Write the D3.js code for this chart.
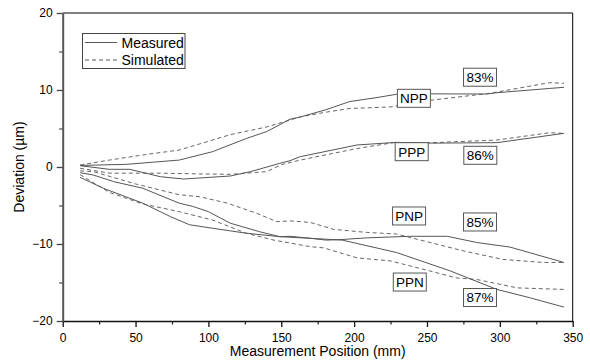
<!DOCTYPE html>
<html>
<head>
<meta charset="utf-8">
<script src="https://cdn.jsdelivr.net/npm/d3@7"></script>
<style>
  body { margin: 0; background: #fff; }
  text { font-family: Arial, "Liberation Sans", sans-serif; }
</style>
</head>
<body>
<svg id="chart"></svg>
<script>
// [position (mm), deviation (um)]
const nppMeasured = [[12,0.2],[44,0.35],[80,0.9],[103,2.0],[126,3.7],[140,4.6],[156,6.2],[163,6.5],[180,7.4],[197,8.5],[215,9.0],[229,9.44],[250,9.5],[291,9.48],[298,9.65],[334,10.2],[344,10.35]] ;
const nppSimulated = [[12,0.26],[32,0.9],[60,1.7],[80,2.2],[115,4.2],[140,5.2],[163,6.5],[180,7.1],[197,7.6],[225,7.8],[254,8.7],[293,9.57],[334,10.95],[344,10.87]] ;
const pppMeasured = [[12,0.17],[32,-0.3],[46,-0.3],[67,-1.26],[83,-1.56],[115,-1.17],[129,-0.6],[149,0.48],[156,0.82],[163,1.34],[202,2.86],[229,3.2],[254,3.1],[298,3.16],[344,4.37]] ;
const pppSimulated = [[12,-0.17],[32,-0.8],[67,-0.8],[94,-0.9],[115,-0.95],[140,-0.6],[150,0.3],[163,0.9],[202,2.4],[227,3.16],[254,3.16],[298,3.5],[334,4.45],[344,4.37]] ;
const pnpMeasured = [[12,-0.74],[21,-1.04],[35,-1.9],[55,-2.76],[80,-4.7],[89,-5.1],[100,-5.8],[115,-7.3],[135,-8.4],[149,-9.05],[156,-9.0],[170,-9.26],[181,-9.5],[193,-9.4],[209,-9.2],[238,-9.0],[264,-9.0],[284,-9.8],[307,-10.4],[344,-12.4]] ;
const pnpSimulated = [[12,-0.5],[21,-0.6],[50,-2.2],[80,-3.6],[94,-3.86],[113,-4.7],[133,-6.0],[147,-7.1],[156,-7.0],[170,-7.2],[186,-8.1],[209,-8.5],[229,-8.7],[252,-9.8],[275,-10.9],[302,-12.0],[330,-12.4],[344,-12.4]] ;
const ppnMeasured = [[12,-1.34],[28,-2.77],[55,-4.7],[74,-6.45],[87,-7.5],[108,-8.1],[126,-8.6],[149,-9.05],[170,-9.26],[192,-9.5],[229,-11.1],[266,-13.5],[298,-15.9],[321,-17.0],[344,-18.2]] ;
const ppnSimulated = [[12,-1.0],[32,-3.3],[55,-4.8],[80,-5.8],[103,-6.9],[126,-8.6],[145,-9.5],[170,-10.35],[179,-10.5],[202,-11.8],[225,-12.2],[252,-13.5],[270,-14.4],[284,-14.6],[312,-15.7],[344,-15.9]] ;

const measuredSeries = [nppMeasured, pppMeasured, pnpMeasured, ppnMeasured] ;
const simulatedSeries = [nppSimulated, pppSimulated, pnpSimulated, ppnSimulated] ;

// label text with data-space centres
const labels = [
	{ text: 'NPP', x: 241, y: 8.92 },
	{ text: '83%', x: 286.4, y: 11.66 },
	{ text: 'PPP', x: 239.5, y: 1.99 },
	{ text: '86%', x: 286.6, y: 1.52 },
	{ text: 'PNP', x: 237.7, y: -6.36 },
	{ text: '85%', x: 286.4, y: -7.14 },
	{ text: 'PPN', x: 238.2, y: -14.94 },
	{ text: '87%', x: 286.4, y: -16.95 }
] ;

const xTicks = [0, 50, 100, 150, 200, 250, 300, 350] ;
const xMinor = [25, 75, 125, 175, 225, 275, 325] ;
const yTicks = [-20, -10, 0, 10, 20] ;
const yMinor = [-15, -5, 5, 15] ;

const geom = { width: 590, height: 362, left: 62.7, right: 572.7, top: 13, bottom: 321 } ;

const x = d3.scaleLinear().domain([0, 350]).range([geom.left, geom.right]) ;
const y = d3.scaleLinear().domain([-20, 20]).range([geom.bottom, geom.top]) ;

const svg = d3.select('#chart')
	.attr('width', geom.width)
	.attr('height', geom.height) ;

// frame top / right
svg.append('path')
	.attr('d', `M${geom.left},${geom.top}H${geom.right}V${geom.bottom}`)
	.attr('fill', 'none')
	.attr('stroke', '#000')
	.attr('stroke-width', 1) ;

// minor ticks
svg.append('g')
	.attr('transform', `translate(0,${geom.bottom})`)
	.call(d3.axisBottom(x).tickValues(xMinor).tickSize(3.5).tickFormat(''))
	.call(g => g.select('.domain').remove())
	.selectAll('line').attr('stroke', '#222').attr('stroke-width', 1.2) ;

svg.append('g')
	.attr('transform', `translate(${geom.left},0)`)
	.call(d3.axisLeft(y).tickValues(yMinor).tickSize(3.5).tickFormat(''))
	.call(g => g.select('.domain').remove())
	.selectAll('line').attr('stroke', '#444').attr('stroke-width', 1.2) ;

// major axes
const xAxis = svg.append('g')
	.attr('transform', `translate(0,${geom.bottom})`)
	.call(d3.axisBottom(x).tickValues(xTicks).tickSize(6).tickSizeOuter(0).tickPadding(6)) ;
xAxis.select('.domain').attr('stroke', '#111').attr('stroke-width', 1.6) ;
xAxis.selectAll('line').attr('stroke', '#111').attr('stroke-width', 1.3) ;
xAxis.selectAll('text').attr('font-size', '12px').attr('fill', '#000')
	.attr('font-family', 'Arial, "Liberation Sans", sans-serif') ;

const yAxis = svg.append('g')
	.attr('transform', `translate(${geom.left},0)`)
	.call(d3.axisLeft(y).tickValues(yTicks).tickSize(6).tickSizeOuter(0).tickPadding(4)) ;
yAxis.select('.domain').attr('stroke', '#555').attr('stroke-width', 2) ;
yAxis.selectAll('line').attr('stroke', '#444').attr('stroke-width', 1.3) ;
yAxis.selectAll('text').attr('font-size', '12px').attr('fill', '#000')
	.attr('font-family', 'Arial, "Liberation Sans", sans-serif') ;

// curves
const line = d3.line().x(d => x(d[0])).y(d => y(d[1])) ;

svg.append('g').selectAll('path.sim')
	.data(simulatedSeries)
	.enter()
	.append('path')
	.attr('class', 'sim')
	.attr('d', line)
	.attr('fill', 'none')
	.attr('stroke', '#666')
	.attr('stroke-width', 1)
	.attr('stroke-dasharray', '4,3') ;

svg.append('g').selectAll('path.meas')
	.data(measuredSeries)
	.enter()
	.append('path')
	.attr('class', 'meas')
	.attr('d', line)
	.attr('fill', 'none')
	.attr('stroke', '#555')
	.attr('stroke-width', 1) ;

// label boxes
const lab = svg.append('g').selectAll('g.label')
	.data(labels)
	.enter()
	.append('g')
	.attr('class', 'label')
	.attr('transform', d => `translate(${x(d.x)},${y(d.y)})`) ;
lab.append('rect')
	.attr('x', -16.5).attr('y', -9)
	.attr('width', 33).attr('height', 18)
	.attr('fill', '#fff')
	.attr('stroke', '#555')
	.attr('stroke-width', 1) ;
lab.append('text')
	.attr('text-anchor', 'middle')
	.attr('dy', '0.36em')
	.attr('font-size', '13.5px')
	.text(d => d.text) ;

// legend
const legend = svg.append('g') ;
legend.append('rect')
	.attr('x', 82.5).attr('y', 33.5)
	.attr('width', 102.5).attr('height', 35)
	.attr('fill', '#fff')
	.attr('stroke', '#444') ;
[['Measured', null, 42.5], ['Simulated', '4,3', 60]].forEach(([name, dash, ly]) => {
	legend.append('line')
		.attr('x1', 85).attr('x2', 117)
		.attr('y1', ly).attr('y2', ly)
		.attr('stroke', '#555')
		.attr('stroke-dasharray', dash) ;
	legend.append('text')
		.attr('x', 121.5).attr('y', ly)
		.attr('dy', '0.36em')
		.attr('font-size', '14px')
		.text(name) ;
}) ;

// axis titles
svg.append('text')
	.attr('x', (geom.left + geom.right) / 2)
	.attr('y', 356)
	.attr('text-anchor', 'middle')
	.attr('font-size', '14px')
	.text('Measurement Position (mm)') ;

svg.append('text')
	.attr('transform', `translate(24,${y(0)}) rotate(-90)`)
	.attr('text-anchor', 'middle')
	.attr('font-size', '14px')
	.text('Deviation (\u00b5m)') ;
</script>
</body>
</html>
